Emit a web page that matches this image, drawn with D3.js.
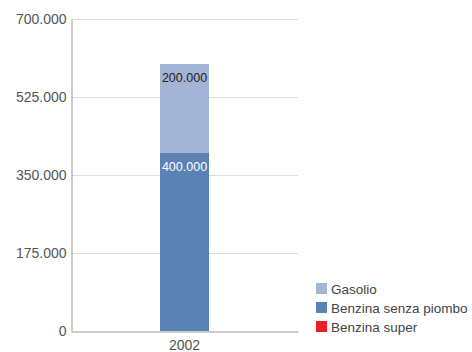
<!DOCTYPE html>
<html><head><meta charset="utf-8">
<script src="https://cdn.jsdelivr.net/npm/d3@7"></script>
<style>
body{margin:0;background:#fff;}
svg{display:block;font-family:"Liberation Sans",Arial,sans-serif;}
</style></head>
<body><svg id="c" width="472" height="352"></svg>
<script>
// Fuel consumption by type, stacked
const categories = ["2002"];
const benzinaSuper = [0];
const benzinaSenzaPiombo = [400000];
const gasolio = [200000];
const yTicks = [0, 175000, 350000, 525000, 700000];

const seriesNames = ["Benzina super", "Benzina senza piombo", "Gasolio"];
const seriesColors = ["#ee1c25", "#5b82b5", "#a3b4d4"];
const labelColors = ["#fff", "#fff", "#222"];

const rows = categories.map((c, i) => ({
  cat: c,
  "Benzina super": benzinaSuper[i],
  "Benzina senza piombo": benzinaSenzaPiombo[i],
  "Gasolio": gasolio[i]
}));

const svg = d3.select("#c");
const m = {left: 71, right: 174, top: 19, bottom: 21};
const W = 472, H = 352;
const x = d3.scaleBand().domain(categories).range([m.left, W - m.right]).paddingInner(0).paddingOuter(0);
const y = d3.scaleLinear().domain([0, 700000]).range([H - m.bottom, m.top]);
const fmt = v => d3.format(",")(v).replace(/,/g, ".");

// gridlines
svg.append("g").selectAll("line").data(yTicks.filter(t => t > 0)).join("line")
  .attr("x1", m.left).attr("x2", W - m.right)
  .attr("y1", d => Math.round(y(d)) + 0.5).attr("y2", d => Math.round(y(d)) + 0.5)
  .attr("stroke", "#dedede").attr("stroke-width", 1);

// y axis
const ya = svg.append("g").attr("transform", `translate(${m.left + 0.5},0)`)
  .call(d3.axisLeft(y).tickValues(yTicks).tickFormat(fmt).tickSize(0).tickPadding(5));
ya.select(".domain").attr("stroke", "#999");
ya.selectAll("text").attr("fill", "#555").style("font-size", "14px").attr("dy", "0.35em");

// stacked bars
const stack = d3.stack().keys(seriesNames)(rows);
const bw = 49;
stack.forEach((s, si) => {
  svg.append("g").selectAll("rect").data(s).join("rect")
    .attr("x", d => x(d.data.cat) + x.bandwidth() / 2 - bw / 2)
    .attr("width", bw)
    .attr("y", d => Math.round(y(d[1])))
    .attr("height", d => Math.round(y(d[0])) - Math.round(y(d[1])))
    .attr("fill", seriesColors[si]);
  svg.append("g").selectAll("text").data(s.filter(d => d[1] - d[0] > 0)).join("text")
    .attr("x", d => x(d.data.cat) + x.bandwidth() / 2)
    .attr("y", d => y(d[1]) + 18)
    .attr("text-anchor", "middle")
    .attr("fill", labelColors[si])
    .style("font-size", "12.5px")
    .text(d => fmt(d[1] - d[0]));
});

// x axis
const xa = svg.append("g").attr("transform", `translate(0,${H - m.bottom + 0.5})`)
  .call(d3.axisBottom(x).tickSize(0).tickPadding(9));
xa.select(".domain").attr("stroke", "#999");
xa.selectAll("text").attr("fill", "#555").style("font-size", "14px");

// legend
const legendItems = ["Gasolio", "Benzina senza piombo", "Benzina super"];
const lg = svg.append("g").attr("transform", "translate(316,283)");
legendItems.forEach((n, i) => {
  const g = lg.append("g").attr("transform", `translate(0,${i * 19})`);
  g.append("rect").attr("width", 11).attr("height", 11)
    .attr("fill", seriesColors[seriesNames.indexOf(n)]);
  g.append("text").attr("x", 15).attr("y", 10.5).attr("fill", "#444")
    .style("font-size", "13.5px").text(n);
});
</script></body></html>
